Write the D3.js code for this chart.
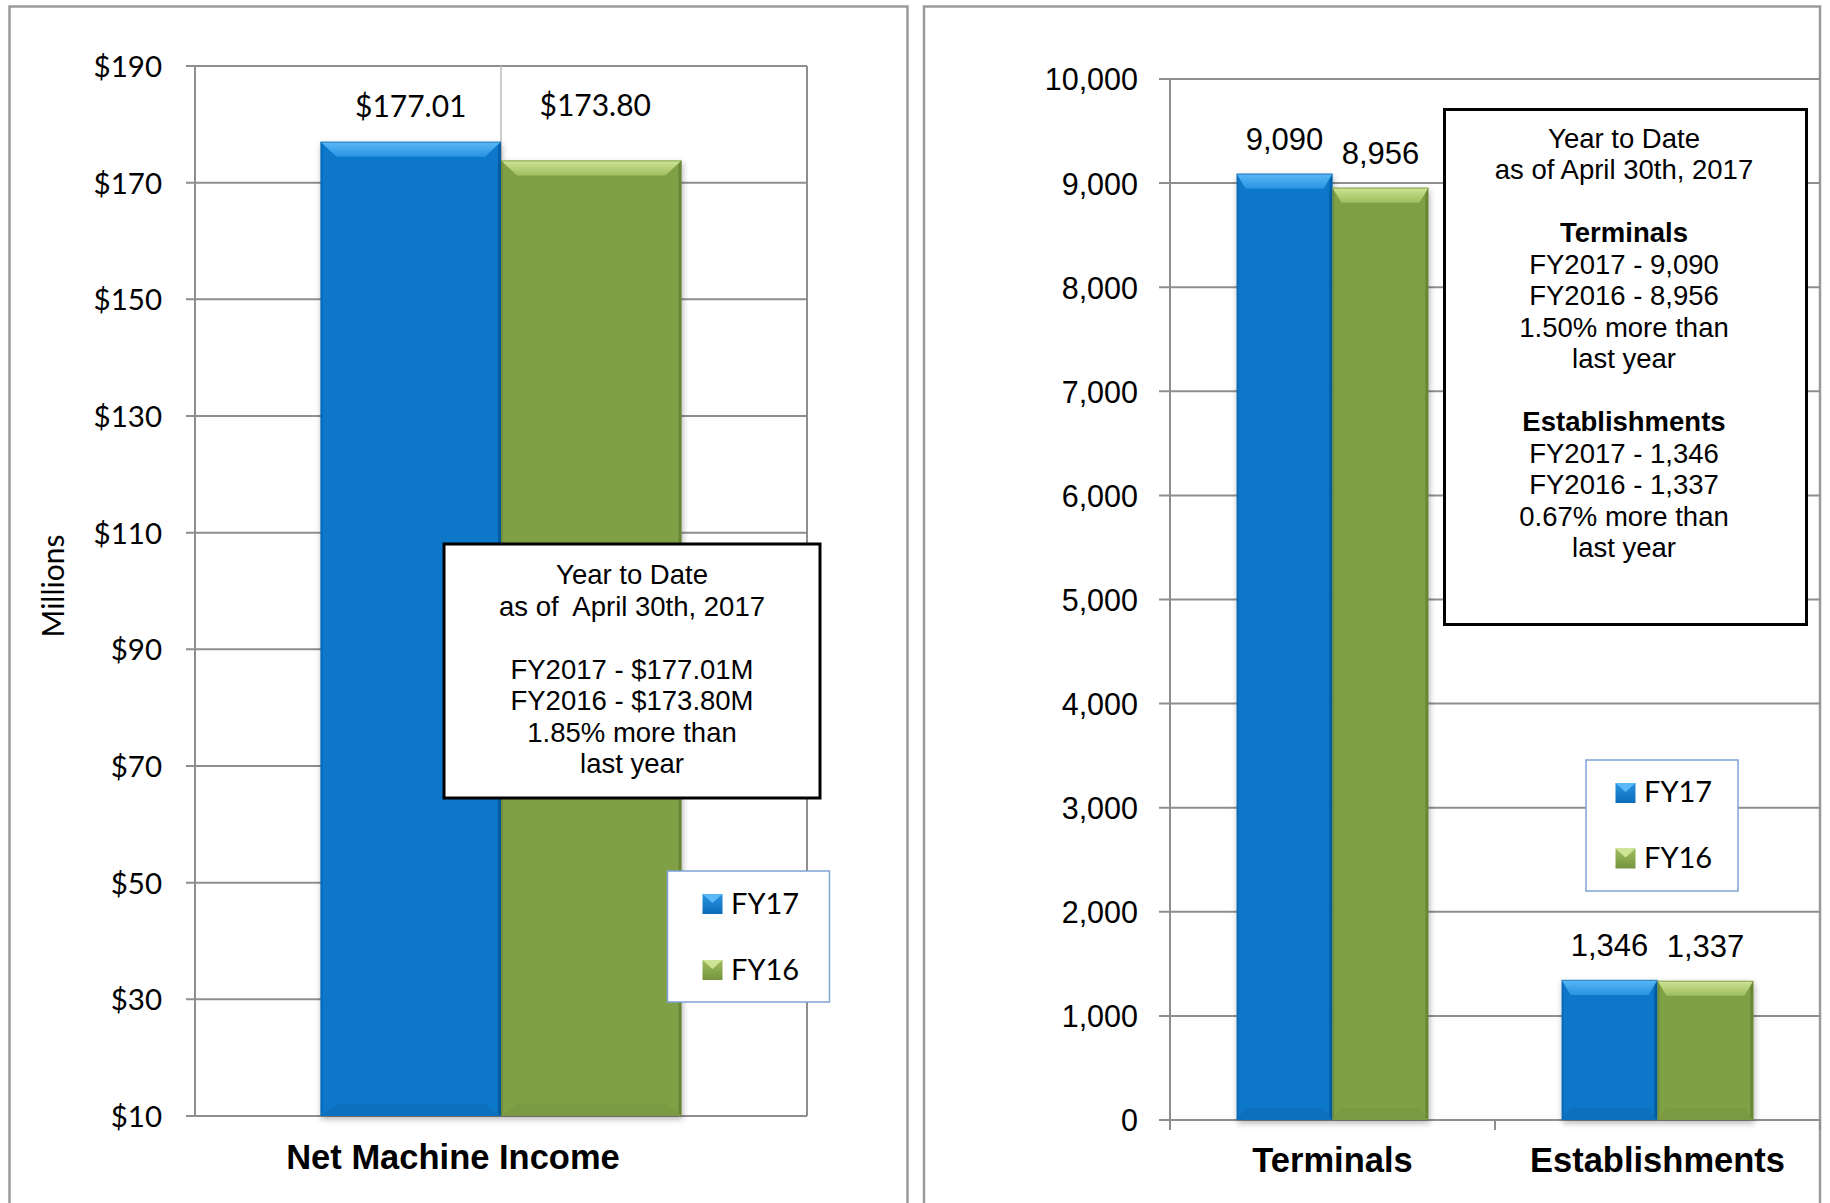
<!DOCTYPE html>
<html><head><meta charset="utf-8">
<script src="https://cdn.jsdelivr.net/npm/d3@7/dist/d3.min.js"></script>
<style>body{margin:0;background:#fff}svg{display:block}text{white-space:pre}</style>
</head><body><svg id="c" width="1830" height="1203"></svg>
<script>
// ---------- data ----------
const seriesNames = ["FY17", "FY16"];
const leftCategories = ["Net Machine Income"];
const leftFY17 = [177.01];
const leftFY16 = [173.80];
const leftTicks = [10, 30, 50, 70, 90, 110, 130, 150, 170, 190];
const leftLabels = ["$177.01", "$173.80"];
const rightCategories = ["Terminals", "Establishments"];
const rightFY17 = [9090, 1346];
const rightFY16 = [8956, 1337];
const rightTicks = [0, 1000, 2000, 3000, 4000, 5000, 6000, 7000, 8000, 9000, 10000];
const leftNote = ["Year to Date", "as of  April 30th, 2017", "", "FY2017 - $177.01M", "FY2016 - $173.80M", "1.85% more than", "last year"];
const rightNote = ["Year to Date", "as of April 30th, 2017", "", "Terminals", "FY2017 - 9,090", "FY2016 - 8,956", "1.50% more than", "last year", "", "Establishments", "FY2017 - 1,346", "FY2016 - 1,337", "0.67% more than", "last year"];
const rightNoteBold = ["Terminals", "Establishments"];

// ---------- styles ----------
const CAL = "Lato, 'Open Sans', sans-serif";
const ARI = "'Liberation Sans', Arial, sans-serif";
const colors = {
  FY17: {body: "#0877c9", top1: "#5ab8f6", top2: "#2a93e2", bot: "#0a6cb8", edge: "#05518f"},
  FY16: {body: "#80a044", top1: "#cfe596", top2: "#9fbd5e", bot: "#76943e", edge: "#55702a"}
};
const GRID = "#8e8e8e";

const svg = d3.select("#c");
const defs = svg.append("defs");
seriesNames.forEach(s => {
  const g = defs.append("linearGradient").attr("id", "top" + s).attr("x1", 0).attr("y1", 0).attr("x2", 0).attr("y2", 1);
  g.append("stop").attr("offset", 0).attr("stop-color", colors[s].top1);
  g.append("stop").attr("offset", 1).attr("stop-color", colors[s].top2);
  const m = defs.append("linearGradient").attr("id", "mk" + s).attr("x1", 0).attr("y1", 0).attr("x2", 0).attr("y2", 1);
  m.append("stop").attr("offset", 0).attr("stop-color", colors[s].top2);
  m.append("stop").attr("offset", 1).attr("stop-color", colors[s].bot);
});
const f = defs.append("filter").attr("id", "shadow").attr("x", "-10%").attr("y", "-10%").attr("width", "120%").attr("height", "120%");
f.append("feDropShadow").attr("dx", 1).attr("dy", 3).attr("stdDeviation", 3).attr("flood-color", "#000").attr("flood-opacity", 0.3);

// ---------- panels ----------
svg.append("rect").attr("x", 9.5).attr("y", 6.5).attr("width", 898).attr("height", 1300)
  .attr("fill", "none").attr("stroke", "#9a9a9a").attr("stroke-width", 2.5);
svg.append("rect").attr("x", 924).attr("y", 6.5).attr("width", 896).attr("height", 1300)
  .attr("fill", "none").attr("stroke", "#9a9a9a").attr("stroke-width", 2.5);

// ---------- helpers ----------
function drawBars(g, x, y, cats, s17, s16, bevelW, bevelH) {
  const base = y.range()[0];
  const bw = x.bandwidth() * 0.295;
  cats.forEach((c, i) => {
    const cx = x(c) + x.bandwidth() / 2;
    [[s17[i], "FY17", cx - bw], [s16[i], "FY16", cx]].forEach(([v, s, x0]) => {
      const x1 = x0 + bw, y0 = y(v), y1 = base;
      const bg = g.append("g").attr("filter", "url(#shadow)");
      bg.append("rect").attr("x", x0).attr("y", y0).attr("width", bw).attr("height", y1 - y0).attr("fill", colors[s].body);
      bg.append("polygon").attr("points", [[x0, y1], [x1, y1], [x1 - bevelW, y1 - 12], [x0 + bevelW, y1 - 12]].join(" "))
        .attr("fill", colors[s].bot).attr("opacity", 0.6);
      bg.append("polygon").attr("points", [[x1, y0], [x1, y1], [x1 - 3, y1 - 3], [x1 - 3, y0 + 3]].join(" "))
        .attr("fill", colors[s].edge).attr("opacity", 0.55);
      bg.append("polygon").attr("points", [[x0, y0], [x0, y1], [x0 + 2, y1 - 2], [x0 + 2, y0 + 2]].join(" "))
        .attr("fill", colors[s].edge).attr("opacity", 0.35);
      bg.append("polygon").attr("points", [[x0, y0], [x1, y0], [x1 - bevelW, y0 + bevelH], [x0 + bevelW, y0 + bevelH]].join(" "))
        .attr("fill", "url(#top" + s + ")");
      bg.append("line").attr("x1", x0).attr("x2", x1).attr("y1", y0 + 0.5).attr("y2", y0 + 0.5)
        .attr("stroke", colors[s].edge).attr("stroke-opacity", 0.5);
    });
  });
  return bw;
}
function legend(g, x, y, w, h, tx, entries) {
  g.append("rect").attr("x", x).attr("y", y).attr("width", w).attr("height", h)
    .attr("fill", "#fff").attr("stroke", "#7ea3d6").attr("stroke-width", 1.5);
  entries.forEach(([name, mx, my, ty]) => {
    g.append("rect").attr("x", mx).attr("y", my).attr("width", 20).attr("height", 20).attr("fill", "url(#mk" + name + ")");
    g.append("polygon").attr("points", [[mx, my], [mx + 20, my], [mx + 10, my + 9]].join(" ")).attr("fill", colors[name].top1);
    g.append("text").attr("x", tx).attr("y", ty).attr("font-family", CAL).attr("font-size", 29).attr("fill", "#000").text(name);
  });
}
function note(g, box, cx, y0, dy, lines, boldSet) {
  g.append("rect").attr("x", box[0]).attr("y", box[1]).attr("width", box[2] - box[0]).attr("height", box[3] - box[1])
    .attr("fill", "#fff").attr("stroke", "#000").attr("stroke-width", 3);
  lines.forEach((t, i) => {
    if (!t) return;
    g.append("text").attr("x", cx).attr("y", y0 + i * dy).attr("text-anchor", "middle")
      .attr("font-family", ARI).attr("font-size", 27.5).attr("fill", "#000")
      .attr("font-weight", boldSet.includes(t) ? "bold" : "normal").text(t);
  });
}

// ---------- left chart ----------
{
  const g = svg.append("g");
  const y = d3.scaleLinear().domain([10, 190]).range([1116, 66]);
  const x = d3.scaleBand().domain(leftCategories).range([195, 807]);
  g.selectAll(".gl").data(leftTicks).join("line")
    .attr("x1", 186).attr("x2", 807).attr("y1", d => y(d)).attr("y2", d => y(d))
    .attr("stroke", GRID).attr("stroke-width", 2);
  g.append("line").attr("x1", 195).attr("x2", 195).attr("y1", y(190)).attr("y2", y(10)).attr("stroke", GRID).attr("stroke-width", 2);
  g.append("line").attr("x1", 807).attr("x2", 807).attr("y1", y(190)).attr("y2", y(10)).attr("stroke", GRID).attr("stroke-width", 2);
  g.append("line").attr("x1", 501).attr("x2", 501).attr("y1", y(190)).attr("y2", y(10)).attr("stroke", "#bdbdbd").attr("stroke-width", 1.5);
  const ax = d3.axisLeft(y).tickValues(leftTicks).tickSize(0).tickPadding(0).tickFormat(d => "$" + d);
  const axg = g.append("g").attr("transform", "translate(162,0)").call(ax);
  axg.select(".domain").remove();
  axg.selectAll("text").attr("font-family", CAL).attr("font-size", 29.5).attr("fill", "#000").attr("dy", "0.36em").attr("x", 0);
  const bw = drawBars(g, x, y, leftCategories, leftFY17, leftFY16, 16, 15);
  const offs = [25, 45];
  leftCategories.forEach((c, i) => {
    const cx = x(c) + x.bandwidth() / 2;
    [[leftFY17[i], cx - bw / 2], [leftFY16[i], cx + bw / 2]].forEach(([v, lx], k) => {
      g.append("text").attr("x", lx + (k ? 4 : 0)).attr("y", y(v) - offs[k]).attr("text-anchor", "middle")
        .attr("font-family", CAL).attr("font-size", 30).attr("fill", "#000").text(leftLabels[k]);
    });
  });
  g.append("text").attr("transform", "translate(64,586) rotate(-90)").attr("text-anchor", "middle")
    .attr("font-family", CAL).attr("font-size", 30).attr("fill", "#000").text("Millions");
  g.append("text").attr("x", 453).attr("y", 1169).attr("text-anchor", "middle")
    .attr("font-family", ARI).attr("font-weight", "bold").attr("font-size", 34.5).attr("fill", "#000").text(leftCategories[0]);
  note(g, [444, 544, 820, 798], 632, 584, 31.5, leftNote, []);
  legend(g, 667.5, 871, 162, 131, 731, [["FY17", 702.5, 894, 914], ["FY16", 702.5, 960, 979.5]]);
}

// ---------- right chart ----------
{
  const g = svg.append("g");
  const y = d3.scaleLinear().domain([0, 10000]).range([1120, 79]);
  const x = d3.scaleBand().domain(rightCategories).range([1170, 1820]);
  g.selectAll(".gl").data(rightTicks).join("line")
    .attr("x1", 1159).attr("x2", 1820).attr("y1", d => y(d)).attr("y2", d => y(d))
    .attr("stroke", GRID).attr("stroke-width", 2);
  g.append("line").attr("x1", 1170).attr("x2", 1170).attr("y1", y(10000)).attr("y2", y(0) + 10).attr("stroke", GRID).attr("stroke-width", 2);
  rightCategories.forEach(c => {
    g.append("line").attr("x1", x(c) + x.bandwidth()).attr("x2", x(c) + x.bandwidth())
      .attr("y1", y(0)).attr("y2", y(0) + 10).attr("stroke", GRID).attr("stroke-width", 2);
  });
  const ax = d3.axisLeft(y).tickValues(rightTicks).tickSize(0).tickPadding(0).tickFormat(d3.format(","));
  const axg = g.append("g").attr("transform", "translate(1138,0)").call(ax);
  axg.select(".domain").remove();
  axg.selectAll("text").attr("font-family", ARI).attr("font-size", 30.5).attr("fill", "#000").attr("dy", "0.36em").attr("x", 0);
  const bw = drawBars(g, x, y, rightCategories, rightFY17, rightFY16, 9, 15);
  rightCategories.forEach((c, i) => {
    const cx = x(c) + x.bandwidth() / 2;
    [[rightFY17[i], cx - bw / 2], [rightFY16[i], cx + bw / 2]].forEach(([v, lx]) => {
      g.append("text").attr("x", lx).attr("y", y(v) - 24).attr("text-anchor", "middle")
        .attr("font-family", ARI).attr("font-size", 31).attr("fill", "#000").text(d3.format(",")(v));
    });
    g.append("text").attr("x", cx).attr("y", 1172).attr("text-anchor", "middle")
      .attr("font-family", ARI).attr("font-weight", "bold").attr("font-size", 34.5).attr("fill", "#000").text(c);
  });
  note(g, [1444.5, 109.5, 1806.5, 624.5], 1624, 147.5, 31.5, rightNote, rightNoteBold);
  legend(g, 1586, 760, 152, 131, 1644, [["FY17", 1615.5, 783, 801.5], ["FY16", 1615.5, 848.5, 867.5]]);
}
</script></body></html>
